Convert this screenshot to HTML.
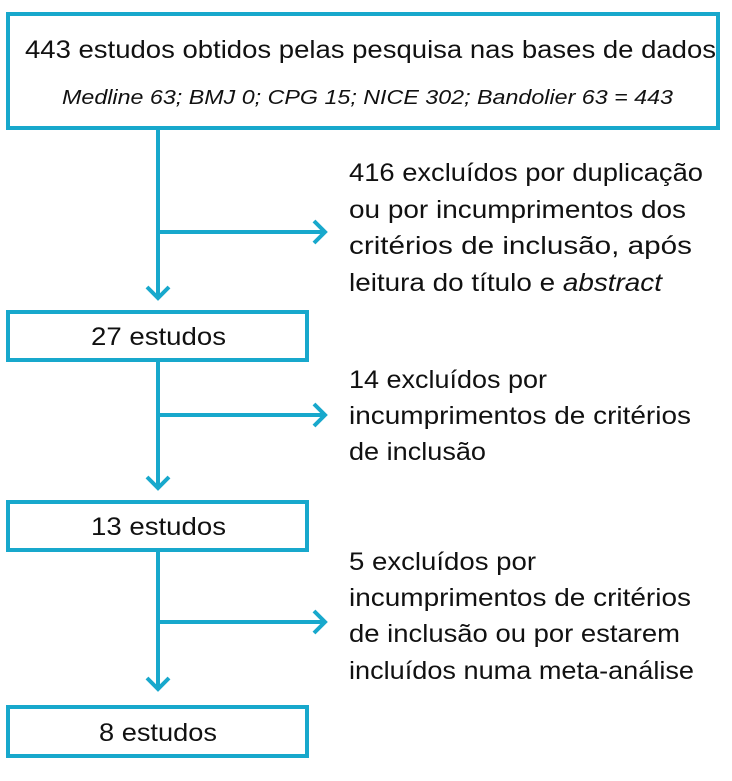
<!DOCTYPE html>
<html><head><meta charset="utf-8"><style>html,body{margin:0;padding:0;background:#fff}svg{display:block}</style></head>
<body>
<svg width="732" height="781" viewBox="0 0 732 781" xmlns="http://www.w3.org/2000/svg" font-family="Liberation Sans, sans-serif" fill="#111">
<g fill="none" stroke="#18a8cc" stroke-width="4">
<rect x="8" y="14" width="710" height="114"/>
<rect x="8" y="312" width="299" height="48"/>
<rect x="8" y="502" width="299" height="48"/>
<rect x="8" y="707" width="299" height="49"/>
<line x1="158" y1="128" x2="158" y2="298"/>
<line x1="158" y1="232" x2="325" y2="232"/>
<polyline points="147,287 158,298 169,287"/>
<polyline points="314,221 325,232 314,243"/>
<line x1="158" y1="360" x2="158" y2="488"/>
<line x1="158" y1="415" x2="325" y2="415"/>
<polyline points="147,477 158,488 169,477"/>
<polyline points="314,404 325,415 314,426"/>
<line x1="158" y1="550" x2="158" y2="689"/>
<line x1="158" y1="622" x2="325" y2="622"/>
<polyline points="147,678 158,689 169,678"/>
<polyline points="314,611 325,622 314,633"/>
</g>
<g font-size="25" dominant-baseline="central" stroke="none">
<text x="25" y="50" textLength="691" lengthAdjust="spacingAndGlyphs">443 estudos obtidos pelas pesquisa nas bases de dados</text>
<text x="62" y="98" font-size="20" font-style="italic" textLength="611" lengthAdjust="spacingAndGlyphs">Medline 63; BMJ 0; CPG 15; NICE 302; Bandolier 63 = 443</text>
<text x="349" y="173" textLength="354" lengthAdjust="spacingAndGlyphs">416 excluídos por duplicação</text>
<text x="349" y="210" textLength="337" lengthAdjust="spacingAndGlyphs">ou por incumprimentos dos</text>
<text x="349" y="246" textLength="343" lengthAdjust="spacingAndGlyphs">critérios de inclusão, após</text>
<text x="349" y="283" textLength="313" lengthAdjust="spacingAndGlyphs">leitura do título e <tspan font-style="italic">abstract</tspan></text>
<text x="91" y="337" textLength="135" lengthAdjust="spacingAndGlyphs">27 estudos</text>
<text x="349" y="380" textLength="198" lengthAdjust="spacingAndGlyphs">14 excluídos por</text>
<text x="349" y="416" textLength="342" lengthAdjust="spacingAndGlyphs">incumprimentos de critérios</text>
<text x="349" y="452" textLength="137" lengthAdjust="spacingAndGlyphs">de inclusão</text>
<text x="91" y="527" textLength="135" lengthAdjust="spacingAndGlyphs">13 estudos</text>
<text x="349" y="562" textLength="187" lengthAdjust="spacingAndGlyphs">5 excluídos por</text>
<text x="349" y="598" textLength="342" lengthAdjust="spacingAndGlyphs">incumprimentos de critérios</text>
<text x="349" y="634" textLength="331" lengthAdjust="spacingAndGlyphs">de inclusão ou por estarem</text>
<text x="349" y="671" textLength="345" lengthAdjust="spacingAndGlyphs">incluídos numa meta-análise</text>
<text x="99" y="733" textLength="118" lengthAdjust="spacingAndGlyphs">8 estudos</text>
</g>
</svg>
</body></html>
